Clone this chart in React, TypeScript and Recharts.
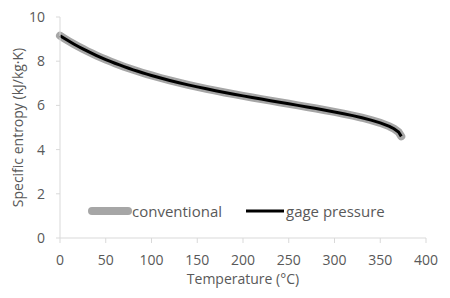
import { LineChart, Line, XAxis, YAxis, Legend } from 'recharts';

const temps = [0.01, 5, 10, 15, 20, 25, 30, 35, 40, 45, 50, 55, 60, 65, 70, 75, 80, 85, 90, 95, 100, 110, 120, 130, 140, 150, 160, 170, 180, 190, 200, 210, 220, 230, 240, 250, 260, 270, 280, 290, 300, 310, 320, 330, 340, 350, 360, 365, 370, 373];
const conventional = [9.156, 9.025, 8.9, 8.78, 8.666, 8.557, 8.452, 8.352, 8.256, 8.163, 8.075, 7.99, 7.908, 7.83, 7.754, 7.681, 7.611, 7.544, 7.478, 7.415, 7.355, 7.239, 7.13, 7.027, 6.93, 6.838, 6.75, 6.666, 6.586, 6.508, 6.432, 6.359, 6.286, 6.215, 6.144, 6.073, 6.002, 5.93, 5.857, 5.782, 5.705, 5.623, 5.536, 5.442, 5.336, 5.211, 5.053, 4.945, 4.797, 4.6];
const gagePressure = [9.156, 9.025, 8.9, 8.78, 8.666, 8.557, 8.452, 8.352, 8.256, 8.163, 8.075, 7.99, 7.908, 7.83, 7.754, 7.681, 7.611, 7.544, 7.478, 7.415, 7.355, 7.239, 7.13, 7.027, 6.93, 6.838, 6.75, 6.666, 6.586, 6.508, 6.432, 6.359, 6.286, 6.215, 6.144, 6.073, 6.002, 5.93, 5.857, 5.782, 5.705, 5.623, 5.536, 5.442, 5.336, 5.211, 5.053, 4.945, 4.797, 4.6];
const xTicks = [0, 50, 100, 150, 200, 250, 300, 350, 400];
const yTicks = [0, 2, 4, 6, 8, 10];

const data = temps.map((t, i) => ({ t, conventional: conventional[i], gage: gagePressure[i] }));

const FONT = '"Open Sans", sans-serif';
const TEXT = '#595959';
const AXIS = '#d9d9d9';
const GRAY = '#a6a6a6';

function LegendBox() {
  return (
    <div style={{ display: 'flex', alignItems: 'center', fontFamily: FONT, fontSize: 15, color: TEXT, height: 0, overflow: 'visible', whiteSpace: 'nowrap' }}>
      <svg width={44} height={10}>
        <line x1={4} y1={5} x2={40} y2={5} stroke={GRAY} strokeWidth={8} strokeLinecap="round" />
      </svg>
      <span style={{ width: 114 }}>conventional</span>
      <svg width={40} height={10}>
        <line x1={0} y1={5} x2={38} y2={5} stroke="#000" strokeWidth={3} />
      </svg>
      <span>gage pressure</span>
    </div>
  );
}

export default function App() {
  return (
    <div>
      <style>{'body{margin:0}'}</style>
      <LineChart width={450} height={298} data={data} margin={{ top: 17, right: 24, bottom: 0, left: 0 }}>
        <XAxis
          dataKey="t"
          type="number"
          domain={[0, 400]}
          ticks={xTicks}
          height={60}
          stroke={AXIS}
          tickSize={5}
          tickMargin={12}
          tick={{ fill: TEXT, fontSize: 14, fontFamily: FONT }}
          label={{ value: 'Temperature (°C)', position: 'insideBottom', offset: 14, fill: TEXT, fontSize: 14, fontFamily: FONT }}
        />
        <YAxis
          type="number"
          domain={[0, 10]}
          ticks={yTicks}
          width={60}
          stroke={AXIS}
          tickSize={4}
          tickMargin={11}
          tick={{ fill: TEXT, fontSize: 14, fontFamily: FONT }}
          label={{ value: 'Specific entropy (kJ/kg·K)', angle: -90, position: 'insideLeft', offset: 18, fill: TEXT, fontSize: 14, fontFamily: FONT, style: { textAnchor: 'middle' } }}
        />
        <Legend content={() => <LegendBox />} wrapperStyle={{ left: 88, top: 211, width: 340, height: 0 }} />
        <Line dataKey="conventional" stroke={GRAY} strokeWidth={8} strokeLinecap="round" dot={false} isAnimationActive={false} />
        <Line dataKey="gage" stroke="#000" strokeWidth={3} dot={false} isAnimationActive={false} />
      </LineChart>
    </div>
  );
}
